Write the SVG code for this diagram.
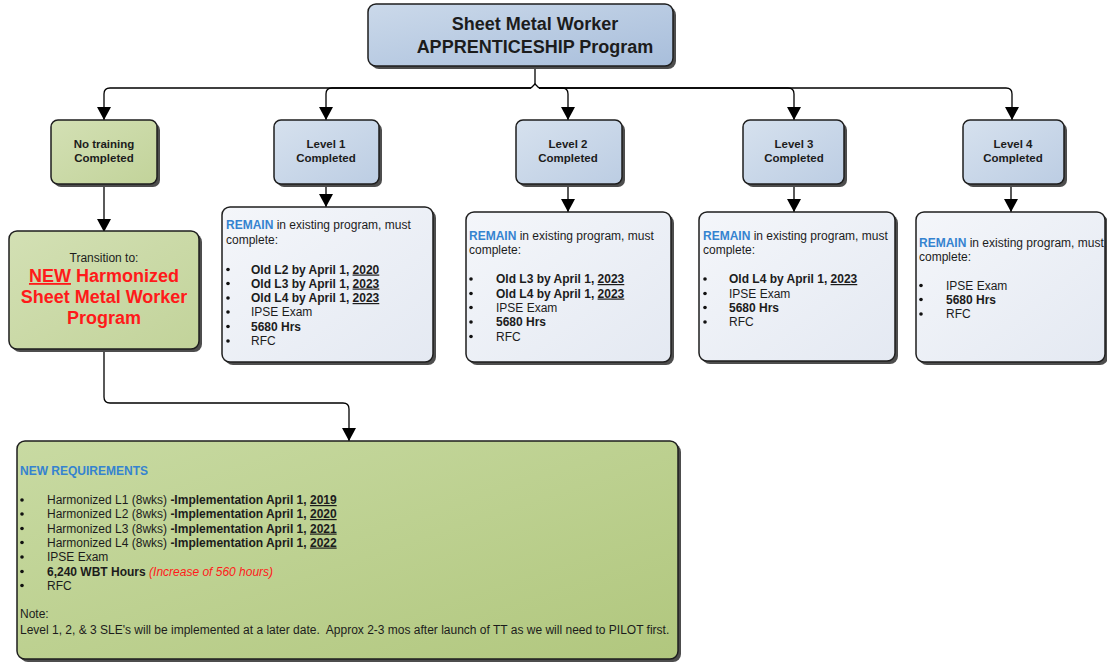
<svg xmlns="http://www.w3.org/2000/svg" width="1107" height="663" viewBox="0 0 1107 663">
<defs>
<linearGradient id="gTop" x1="0" y1="0" x2="1" y2="1"><stop offset="0" stop-color="#cbd9ea"/><stop offset="1" stop-color="#a8bedb"/></linearGradient>
<linearGradient id="gLvl" x1="0" y1="0" x2="1" y2="1"><stop offset="0" stop-color="#d6e1ee"/><stop offset="1" stop-color="#bccde3"/></linearGradient>
<linearGradient id="gGreen" x1="0" y1="0" x2="1" y2="1"><stop offset="0" stop-color="#d3e0b4"/><stop offset="1" stop-color="#c2d39a"/></linearGradient>
<linearGradient id="gNew" x1="0" y1="0" x2="1" y2="1"><stop offset="0" stop-color="#c8daa2"/><stop offset="1" stop-color="#b1c77e"/></linearGradient>
<linearGradient id="gRem" x1="0" y1="0" x2="1" y2="1"><stop offset="0" stop-color="#f4f6fa"/><stop offset="1" stop-color="#e4e9f2"/></linearGradient>
<marker id="arr" markerUnits="userSpaceOnUse" markerWidth="14" markerHeight="14" viewBox="0 0 14 14" refX="13" refY="7" orient="auto"><path d="M0,0 L13,7 L0,14 z" fill="#000"/></marker>
<style>
.sh{fill:#4d4d4d}
.bx{stroke:#1e1e1e;stroke-width:1.5}
.t{font-family:"Liberation Sans",Arial,sans-serif;fill:#1c1c1c;font-size:12px}
.s{font-size:11.5px}
.big{font-size:18px}
.b{font-weight:bold}
.c{text-anchor:middle}
.blue{fill:#3583d0;font-weight:bold}
.u{text-decoration:underline}
.red{fill:#ff1a1a}
.dot{fill:#111}
.con{fill:none;stroke:#000;stroke-width:1.3}
</style>
</defs>

<g id="connectors">
<path class="con" d="M535,66 V84"/>
<path class="con" d="M531,88 L535,84 L539,88"/>
<path class="con" d="M531,88 H110 Q104,88 104,94 V120" marker-end="url(#arr)"/>
<path class="con" d="M531,88 H332 Q326,88 326,94 V120" marker-end="url(#arr)"/>
<path class="con" d="M539,88 H562 Q568,88 568,94 V120" marker-end="url(#arr)"/>
<path class="con" d="M539,88 H788 Q794,88 794,94 V120" marker-end="url(#arr)"/>
<path class="con" d="M539,88 H1006 Q1012,88 1012,94 V120" marker-end="url(#arr)"/>
<path class="con" d="M104,184 V232" marker-end="url(#arr)"/>
<path class="con" d="M326,184 V207" marker-end="url(#arr)"/>
<path class="con" d="M568,184 V212" marker-end="url(#arr)"/>
<path class="con" d="M794,184 V212" marker-end="url(#arr)"/>
<path class="con" d="M1011,184 V212" marker-end="url(#arr)"/>
<path class="con" d="M104,350 V397 Q104,403 110,403 H343 Q349,403 349,409 V441" marker-end="url(#arr)"/>
</g>

<g id="top">
<rect class="sh" x="371" y="7" width="305" height="62" rx="8"/>
<rect class="bx" x="368" y="4" width="305" height="62" rx="8" fill="url(#gTop)"/>
<text class="t b c big" x="535" y="30">Sheet Metal Worker</text>
<text class="t b c big" x="535" y="53">APPRENTICESHIP Program</text>
</g>

<g id="no-training">
<rect class="sh" x="54" y="123" width="106" height="64" rx="7"/>
<rect class="bx" x="51" y="120" width="106" height="64" rx="7" fill="url(#gGreen)"/>
<text class="t b c s" x="104" y="148">No training</text>
<text class="t b c s" x="104" y="162">Completed</text>
</g>

<g id="level1">
<rect class="sh" x="277" y="123" width="105" height="64" rx="7"/>
<rect class="bx" x="274" y="120" width="105" height="64" rx="7" fill="url(#gLvl)"/>
<text class="t b c s" x="326" y="148">Level 1</text>
<text class="t b c s" x="326" y="162">Completed</text>
</g>

<g id="level2">
<rect class="sh" x="519" y="123" width="106" height="64" rx="7"/>
<rect class="bx" x="516" y="120" width="106" height="64" rx="7" fill="url(#gLvl)"/>
<text class="t b c s" x="568" y="148">Level 2</text>
<text class="t b c s" x="568" y="162">Completed</text>
</g>

<g id="level3">
<rect class="sh" x="746" y="123" width="101" height="64" rx="7"/>
<rect class="bx" x="743" y="120" width="101" height="64" rx="7" fill="url(#gLvl)"/>
<text class="t b c s" x="794" y="148">Level 3</text>
<text class="t b c s" x="794" y="162">Completed</text>
</g>

<g id="level4">
<rect class="sh" x="966" y="123" width="101" height="64" rx="7"/>
<rect class="bx" x="963" y="120" width="101" height="64" rx="7" fill="url(#gLvl)"/>
<text class="t b c s" x="1013" y="148">Level 4</text>
<text class="t b c s" x="1013" y="162">Completed</text>
</g>

<g id="transition">
<rect class="sh" x="12" y="234" width="190" height="118" rx="8"/>
<rect class="bx" x="9" y="231" width="190" height="118" rx="8" fill="url(#gGreen)"/>
<text class="t c" x="104" y="262">Transition to:</text>
<text class="t b c red big" x="104" y="282"><tspan class="u">NEW</tspan> Harmonized</text>
<text class="t b c red big" x="104" y="303">Sheet Metal Worker</text>
<text class="t b c red big" x="104" y="324">Program</text>
</g>

<g id="remain1">
<rect class="sh" x="225" y="210" width="211" height="155" rx="8"/>
<rect class="bx" x="222" y="207" width="211" height="155" rx="8" fill="url(#gRem)"/>
<text class="t" x="226" y="229"><tspan class="blue">REMAIN</tspan> in existing program, must</text>
<text class="t" x="226" y="244">complete:</text>
<circle class="dot" cx="228" cy="269.5" r="1.8"/>
<circle class="dot" cx="228" cy="283.5" r="1.8"/>
<circle class="dot" cx="228" cy="298" r="1.8"/>
<circle class="dot" cx="228" cy="312" r="1.8"/>
<circle class="dot" cx="228" cy="326.5" r="1.8"/>
<circle class="dot" cx="228" cy="341" r="1.8"/>
<text class="t b" x="251" y="273.5">Old L2 by April 1, <tspan class="u">2020</tspan></text>
<text class="t b" x="251" y="287.5">Old L3 by April 1, <tspan class="u">2023</tspan></text>
<text class="t b" x="251" y="302">Old L4 by April 1, <tspan class="u">2023</tspan></text>
<text class="t" x="251" y="316">IPSE Exam</text>
<text class="t b" x="251" y="330.5">5680 Hrs</text>
<text class="t" x="251" y="345">RFC</text>
</g>

<g id="remain2">
<rect class="sh" x="469" y="215" width="205" height="150" rx="8"/>
<rect class="bx" x="466" y="212" width="205" height="150" rx="8" fill="url(#gRem)"/>
<text class="t" x="469" y="240"><tspan class="blue">REMAIN</tspan> in existing program, must</text>
<text class="t" x="469" y="254">complete:</text>
<circle class="dot" cx="471" cy="279" r="1.8"/>
<circle class="dot" cx="471" cy="293.5" r="1.8"/>
<circle class="dot" cx="471" cy="307.5" r="1.8"/>
<circle class="dot" cx="471" cy="322" r="1.8"/>
<circle class="dot" cx="471" cy="336.5" r="1.8"/>
<text class="t b" x="496" y="283">Old L3 by April 1, <tspan class="u">2023</tspan></text>
<text class="t b" x="496" y="297.5">Old L4 by April 1, <tspan class="u">2023</tspan></text>
<text class="t" x="496" y="311.5">IPSE Exam</text>
<text class="t b" x="496" y="326">5680 Hrs</text>
<text class="t" x="496" y="340.5">RFC</text>
</g>

<g id="remain3">
<rect class="sh" x="702" y="215" width="196" height="149" rx="8"/>
<rect class="bx" x="699" y="212" width="196" height="149" rx="8" fill="url(#gRem)"/>
<text class="t" x="703" y="240"><tspan class="blue">REMAIN</tspan> in existing program, must</text>
<text class="t" x="703" y="254">complete:</text>
<circle class="dot" cx="705" cy="279" r="1.8"/>
<circle class="dot" cx="705" cy="293.5" r="1.8"/>
<circle class="dot" cx="705" cy="307.5" r="1.8"/>
<circle class="dot" cx="705" cy="322" r="1.8"/>
<text class="t b" x="729" y="283">Old L4 by April 1, <tspan class="u">2023</tspan></text>
<text class="t" x="729" y="297.5">IPSE Exam</text>
<text class="t b" x="729" y="311.5">5680 Hrs</text>
<text class="t" x="729" y="326">RFC</text>
</g>

<g id="remain4">
<rect class="sh" x="919" y="215" width="189" height="150" rx="8"/>
<rect class="bx" x="916" y="212" width="189" height="150" rx="8" fill="url(#gRem)"/>
<text class="t" x="919" y="247"><tspan class="blue">REMAIN</tspan> in existing program, must</text>
<text class="t" x="919" y="261">complete:</text>
<circle class="dot" cx="921" cy="285.5" r="1.8"/>
<circle class="dot" cx="921" cy="299.5" r="1.8"/>
<circle class="dot" cx="921" cy="314" r="1.8"/>
<text class="t" x="946" y="289.5">IPSE Exam</text>
<text class="t b" x="946" y="303.5">5680 Hrs</text>
<text class="t" x="946" y="318">RFC</text>
</g>

<g id="new-requirements">
<rect class="sh" x="20" y="444" width="661" height="218" rx="8"/>
<rect class="bx" x="17" y="441" width="661" height="218" rx="8" fill="url(#gNew)"/>
<text class="t blue" x="20" y="475">NEW REQUIREMENTS</text>
<circle class="dot" cx="22" cy="500" r="1.8"/>
<circle class="dot" cx="22" cy="514" r="1.8"/>
<circle class="dot" cx="22" cy="528.5" r="1.8"/>
<circle class="dot" cx="22" cy="542.5" r="1.8"/>
<circle class="dot" cx="22" cy="557" r="1.8"/>
<circle class="dot" cx="22" cy="571.5" r="1.8"/>
<circle class="dot" cx="22" cy="585.5" r="1.8"/>
<text class="t" x="47" y="504">Harmonized L1 (8wks) <tspan class="b">-Implementation April 1, </tspan><tspan class="b u">2019</tspan></text>
<text class="t" x="47" y="518">Harmonized L2 (8wks) <tspan class="b">-Implementation April 1, </tspan><tspan class="b u">2020</tspan></text>
<text class="t" x="47" y="532.5">Harmonized L3 (8wks) <tspan class="b">-Implementation April 1, </tspan><tspan class="b u">2021</tspan></text>
<text class="t" x="47" y="546.5">Harmonized L4 (8wks) <tspan class="b">-Implementation April 1, </tspan><tspan class="b u">2022</tspan></text>
<text class="t" x="47" y="561">IPSE Exam</text>
<text class="t" x="47" y="575.5"><tspan class="b">6,240 WBT Hours</tspan> <tspan class="red" font-style="italic">(Increase of 560 hours)</tspan></text>
<text class="t" x="47" y="589.5">RFC</text>
<text class="t" x="20" y="618">Note:</text>
<text class="t" x="20" y="633.5">Level 1, 2, &amp; 3 SLE's will be implemented at a later date.&#160; Approx 2-3 mos after launch of TT as we will need to PILOT first.</text>
</g>
</svg>
